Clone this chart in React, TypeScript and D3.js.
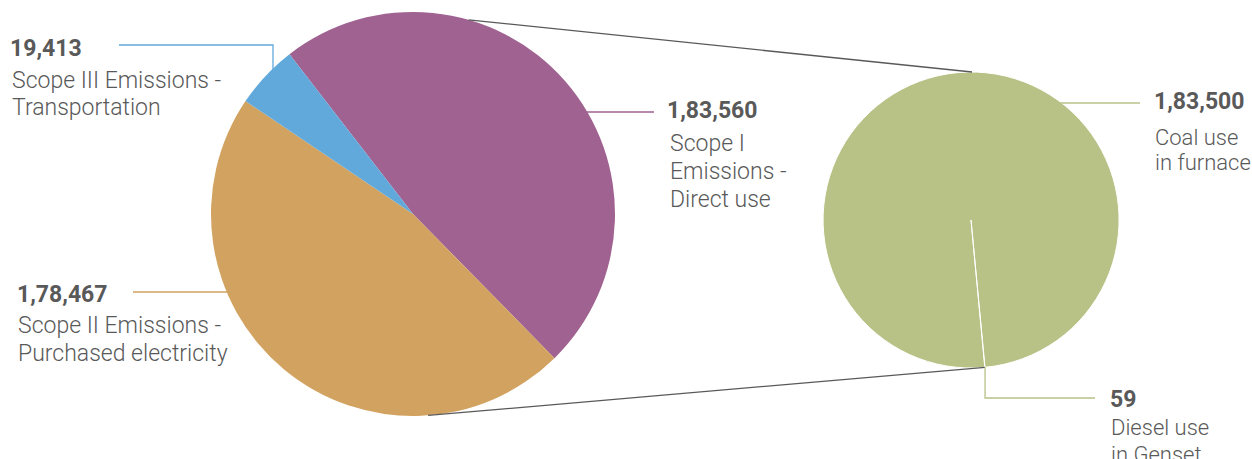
import React from "react";
import * as d3 from "d3";

const mainCategories = ["Scope I Emissions - Direct use", "Scope II Emissions - Purchased electricity", "Scope III Emissions - Transportation"];
const mainValues = [183560, 178467, 19413];
const mainColors = ["#A06290", "#D2A260", "#62A9DB"];

const subCategories = ["Diesel use in Genset", "Coal use in furnace"];
const subValues = [59, 183500];
const subColor = "#B8C286";

const fmt = (v: number) => {
  // Indian digit grouping
  const s = String(v);
  if (s.length <= 3) return s;
  const last3 = s.slice(-3);
  let rest = s.slice(0, -3);
  const parts: string[] = [];
  while (rest.length > 2) {
    parts.unshift(rest.slice(-2));
    rest = rest.slice(0, -2);
  }
  if (rest) parts.unshift(rest);
  return parts.join(",") + "," + last3;
};

const W = 1252, H = 459;
const deg = Math.PI / 180;

export default function App() {
  const cx1 = 413, cy1 = 214, r1 = 202;
  const cx2 = 971, cy2 = 220, r2 = 148;

  const pie1 = d3.pie<number>().sort(null).startAngle(-37.7 * deg).endAngle(-37.7 * deg + 2 * Math.PI);
  const arcs1 = pie1(mainValues);
  const arc1 = d3.arc<any>().innerRadius(0).outerRadius(r1);

  const subStart = 174.55 * deg;
  const pie2 = d3.pie<number>().sort(null).startAngle(subStart).endAngle(subStart + 2 * Math.PI);
  const arcs2 = pie2(subValues);
  const arc2 = d3.arc<any>().innerRadius(0).outerRadius(r2);

  const pt = (cx: number, cy: number, r: number, a: number) => [cx + r * Math.sin(a), cy - r * Math.cos(a)];
  const topA = pt(cx1, cy1, r1, 16 * deg);
  const botA = pt(cx1, cy1, r1, 175.7 * deg);
  const topB = [cx2 + 1, cy2 - r2];
  const botB = pt(cx2, cy2, r2, arcs2[0].startAngle);

  const txt = "#595959";
  const font = "Roboto, 'Noto Sans', sans-serif";

  const valStyle = { fontFamily: font, fontWeight: 700, fontSize: 23, fill: txt } as any;
  const labStyle = { fontFamily: font, fontWeight: 300, fontSize: 23, fill: txt } as any;
  const subLabStyle = { fontFamily: font, fontWeight: 300, fontSize: 22, fill: txt } as any;

  return (
    <svg width={W} height={H} style={{ position: "absolute", left: 0, top: 0, background: "#fff" }}>
      <g transform={`translate(${cx1},${cy1})`}>
        {arcs1.map((a, i) => (
          <path key={i} d={arc1(a) as string} fill={mainColors[i]} />
        ))}
      </g>
      <g transform={`translate(${cx2},${cy2})`}>
        {arcs2.map((a, i) => (
          <path key={i} d={arc2(a) as string} fill={subColor} stroke="#fff" strokeWidth={1} />
        ))}
      </g>
      {/* connectors */}
      <line x1={topA[0]} y1={topA[1]} x2={topB[0]} y2={topB[1]} stroke="#595959" strokeWidth={1.3} />
      <line x1={botA[0]} y1={botA[1]} x2={botB[0]} y2={botB[1]} stroke="#595959" strokeWidth={1.3} />

      {/* leaders */}
      <polyline points="119,45 273,45 273,71" fill="none" stroke={mainColors[2]} strokeWidth={1.3} />
      <line x1={587} y1={112} x2={654} y2={112} stroke={mainColors[0]} strokeWidth={1.3} />
      <line x1={133} y1={292} x2={228} y2={292} stroke={mainColors[1]} strokeWidth={1.3} />
      <line x1={1060} y1={103} x2={1140} y2={103} stroke={subColor} strokeWidth={1.3} />
      <polyline points={`${botB[0]},${botB[1]} ${botB[0]},398 1095,398`} fill="none" stroke={subColor} strokeWidth={1.3} />

      {/* labels */}
      <text x={10} y={56} style={valStyle}>{fmt(mainValues[2])}</text>
      <text x={12} y={88} style={labStyle}>Scope III Emissions -</text>
      <text x={12} y={115} style={labStyle}>Transportation</text>

      <text x={667} y={118} style={valStyle}>{fmt(mainValues[0])}</text>
      <text x={670} y={151} style={labStyle}>Scope I</text>
      <text x={670} y={179} style={labStyle}>Emissions -</text>
      <text x={670} y={207} style={labStyle}>Direct use</text>

      <text x={17} y={302} style={valStyle}>{fmt(mainValues[1])}</text>
      <text x={18} y={333} style={labStyle}>Scope II Emissions -</text>
      <text x={18} y={361} style={labStyle}>Purchased electricity</text>

      <text x={1154} y={109} style={valStyle}>{fmt(subValues[1])}</text>
      <text x={1155} y={145} style={subLabStyle}>Coal use</text>
      <text x={1155} y={170} style={subLabStyle}>in furnace</text>

      <text x={1110} y={407} style={valStyle}>{fmt(subValues[0])}</text>
      <text x={1111} y={435} style={subLabStyle}>Diesel use</text>
      <text x={1111} y={462} style={subLabStyle}>in Genset</text>
    </svg>
  );
}
